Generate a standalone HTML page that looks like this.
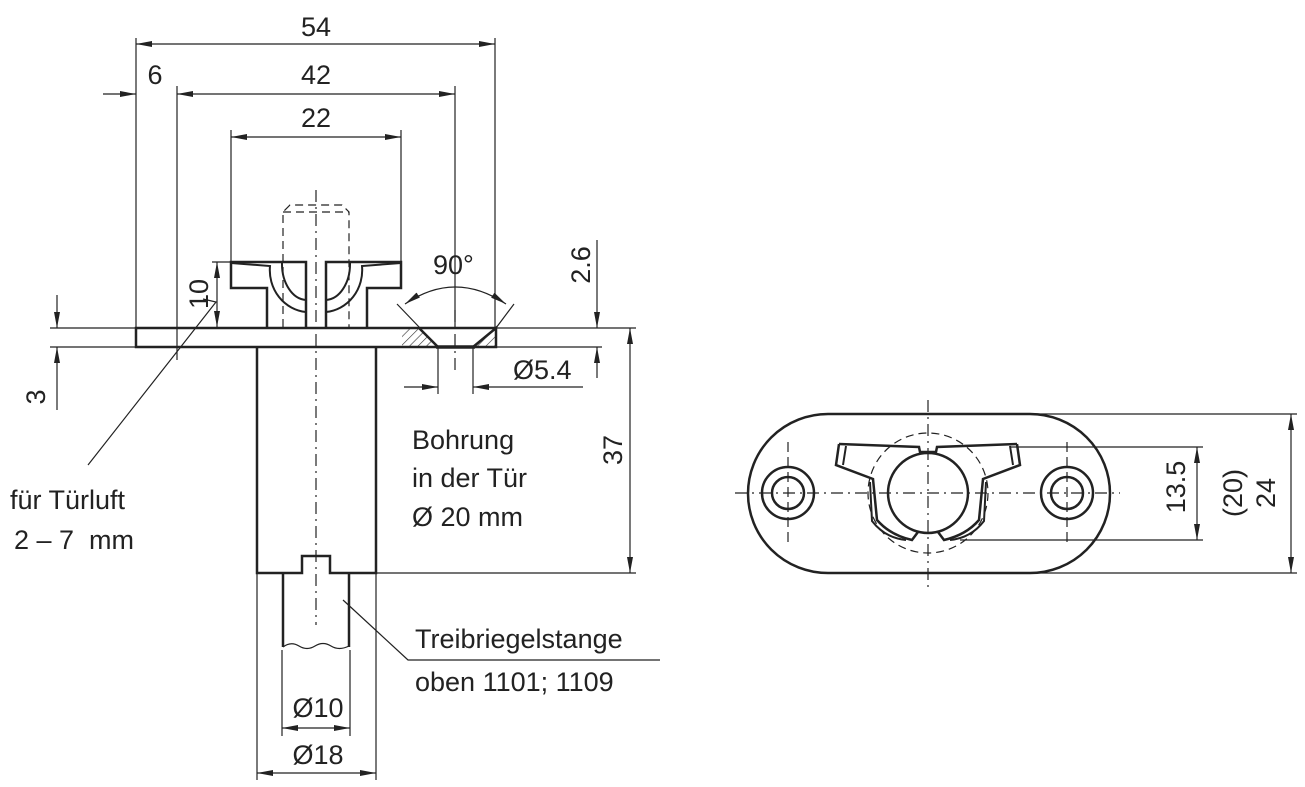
<!DOCTYPE html>
<html><head><meta charset="utf-8"><style>
html,body{margin:0;padding:0;background:#fff;}
svg{display:block;}
text{font-family:"Liberation Sans",sans-serif;font-size:27px;fill:#222;}
</style></head><body>
<svg width="1305" height="787" viewBox="0 0 1305 787" xmlns="http://www.w3.org/2000/svg">
<defs>
<marker id="a" viewBox="0 0 16 6" refX="16" refY="3" markerWidth="16" markerHeight="6" orient="auto-start-reverse" markerUnits="userSpaceOnUse"><path d="M0,0 L16,3 L0,6 z" fill="#222"/></marker>
<pattern id="h" width="6" height="6" patternUnits="userSpaceOnUse" patternTransform="rotate(45)"><line x1="0" y1="0" x2="0" y2="6" stroke="#333" stroke-width="1.2"/></pattern>
</defs>
<g stroke="#222" fill="none" stroke-width="1.2">
<line x1="136" y1="327" x2="136" y2="38"/>
<line x1="495" y1="327" x2="495" y2="38"/>
<line x1="177" y1="360" x2="177" y2="86"/>
<line x1="455" y1="327" x2="455" y2="86"/>
<line x1="231" y1="262" x2="231" y2="130"/>
<line x1="401" y1="262" x2="401" y2="130"/>
<line x1="136" y1="44" x2="495" y2="44" marker-start="url(#a)" marker-end="url(#a)"/>
<line x1="103" y1="94" x2="136" y2="94" marker-end="url(#a)"/>
<line x1="177" y1="94" x2="455" y2="94" marker-start="url(#a)" marker-end="url(#a)"/>
<line x1="231" y1="137" x2="401" y2="137" marker-start="url(#a)" marker-end="url(#a)"/>
<line x1="212" y1="262" x2="231" y2="262"/>
<line x1="217" y1="262" x2="217" y2="327" marker-start="url(#a)" marker-end="url(#a)"/>
<line x1="50" y1="328" x2="136" y2="328"/>
<line x1="50" y1="347" x2="136" y2="347"/>
<line x1="57" y1="295" x2="57" y2="328" marker-end="url(#a)"/>
<line x1="57" y1="410" x2="57" y2="347" marker-end="url(#a)"/>
<polyline points="203,299 216,302 88,465"/>
<line x1="495" y1="347" x2="602" y2="347"/>
<line x1="495" y1="328" x2="636" y2="328"/>
<line x1="597" y1="240" x2="597" y2="328" marker-end="url(#a)"/>
<line x1="597" y1="378" x2="597" y2="347" marker-end="url(#a)"/>
<line x1="438" y1="347" x2="438" y2="394"/>
<line x1="473" y1="347" x2="473" y2="394"/>
<line x1="404" y1="387" x2="438" y2="387" marker-end="url(#a)"/>
<line x1="583" y1="387" x2="473" y2="387" marker-end="url(#a)"/>
<line x1="376" y1="573" x2="636" y2="573"/>
<line x1="630" y1="328" x2="630" y2="573" marker-start="url(#a)" marker-end="url(#a)"/>
<line x1="397" y1="304" x2="420" y2="328"/>
<line x1="514" y1="304" x2="496" y2="328"/>
<path d="M405,304 Q455,270 506,304" marker-start="url(#a)" marker-end="url(#a)"/>
<line x1="282" y1="650" x2="282" y2="736"/>
<line x1="350" y1="650" x2="350" y2="736"/>
<line x1="282" y1="728" x2="350" y2="728" marker-start="url(#a)" marker-end="url(#a)"/>
<line x1="257" y1="573" x2="257" y2="780"/>
<line x1="376" y1="573" x2="376" y2="780"/>
<line x1="257" y1="773" x2="376" y2="773" marker-start="url(#a)" marker-end="url(#a)"/>
<polyline points="343,600 408,660 660,660"/>
<line x1="316" y1="190" x2="316" y2="625" stroke-dasharray="12,5,2,5"/>
<line x1="455" y1="310" x2="455" y2="370" stroke-dasharray="12,5,2,5"/>
<path d="M283,327 V212 L290,205 H342 L349,212 V327" stroke-dasharray="8,5"/>
<line x1="283" y1="212" x2="349" y2="212" stroke-dasharray="8,5"/>
</g>
<polygon points="402,328 419,328 438,347 402,347" fill="url(#h)"/>
<polygon points="496,328 496,347 473,347" fill="url(#h)"/>
<g stroke="#222" fill="none" stroke-width="2.5">
<path d="M136,328 H419 L438,347 H136 Z"/>
<path d="M473,347 L496,328 H496 V347 Z"/>
<line x1="419" y1="328" x2="496" y2="328"/>
<line x1="436" y1="347" x2="475" y2="347" stroke-width="3.5"/>
<path d="M257,347 V573 H302 V556 H330 V573 H376 V347"/>
<path d="M283,573 V647 M349,573 V647"/>
<path d="M283,647 q8,-6 16,-1 t16,0 t16,0 t18,0" stroke-width="1.2"/>
<path d="M267,327 V288 H231 V262 H306 V327"/>
<path d="M326,327 V262 H401 V288 H367 V327"/>
<path d="M231,263 L270,266 A40,42 0 0 0 306,312 M282,263 A25,36 0 0 0 306,300" stroke-width="2"/>
<path d="M401,263 L362,266 A40,42 0 0 1 326,312 M350,263 A25,36 0 0 1 326,300" stroke-width="2"/>
</g>
<text x="316" y="36" text-anchor="middle">54</text>
<text x="155" y="84" text-anchor="middle">6</text>
<text x="316" y="84" text-anchor="middle">42</text>
<text x="316" y="127" text-anchor="middle">22</text>
<text transform="translate(208,294) rotate(-90)" text-anchor="middle">10</text>
<text transform="translate(45,397) rotate(-90)" text-anchor="middle">3</text>
<text transform="translate(590,265) rotate(-90)" text-anchor="middle">2.6</text>
<text transform="translate(622,450) rotate(-90)" text-anchor="middle">37</text>
<text x="433" y="274">90°</text>
<text x="513" y="379">Ø5.4</text>
<text x="412" y="449">Bohrung</text>
<text x="412" y="487">in der Tür</text>
<text x="412" y="526">Ø 20 mm</text>
<text x="10" y="509">für Türluft</text>
<text x="14" y="549" xml:space="preserve">2 – 7  mm</text>
<text x="415" y="648">Treibriegelstange</text>
<text x="415" y="691">oben 1101; 1109</text>
<text x="318" y="717" text-anchor="middle">Ø10</text>
<text x="318" y="764" text-anchor="middle">Ø18</text>
<g stroke="#222" fill="none" stroke-width="1.2">
<line x1="735" y1="493" x2="1120" y2="493" stroke-dasharray="12,5,2,5"/>
<line x1="928" y1="400" x2="928" y2="590" stroke-dasharray="12,5,2,5"/>
<line x1="788" y1="442" x2="788" y2="545" stroke-dasharray="10,5"/>
<line x1="1067" y1="442" x2="1067" y2="545" stroke-dasharray="10,5"/>
<circle cx="928" cy="493" r="60" stroke-dasharray="8,5"/>
<line x1="1030" y1="414" x2="1297" y2="414"/>
<line x1="1030" y1="573" x2="1297" y2="573"/>
<line x1="1010" y1="447" x2="1203" y2="447"/>
<line x1="960" y1="540" x2="1203" y2="540"/>
<line x1="1197" y1="447" x2="1197" y2="540" marker-start="url(#a)" marker-end="url(#a)"/>
<line x1="1291" y1="414" x2="1291" y2="573" marker-start="url(#a)" marker-end="url(#a)"/>
</g>
<g stroke="#222" fill="none" stroke-width="2.5">
<rect x="748" y="414" width="362" height="159" rx="80" ry="80"/>
<circle cx="788" cy="493" r="26"/>
<circle cx="788" cy="493" r="16"/>
<circle cx="1067" cy="493" r="26"/>
<circle cx="1067" cy="493" r="16"/>
<circle cx="928" cy="493" r="40"/>
<path d="M839,444 L836,465 L873,479 L877,520 Q890,535 912,540 L918,532 M1017,444 L1020,465 L983,479 L979,520 Q966,535 944,540 L938,532" />
<path d="M839,444 L919,447 L920,452 H936 L937,447 L1017,444"/>
<path d="M870,482 L872,521 Q885,538 906,540 M986,482 L984,521 Q971,538 950,540" stroke-width="2"/>
<path d="M846,446 L843,465 M1010,446 L1013,465" stroke-width="2"/>
</g>
<text transform="translate(1185,487) rotate(-90)" text-anchor="middle">13.5</text>
<text transform="translate(1242,493) rotate(-90)" text-anchor="middle">(20)</text>
<text transform="translate(1275,493) rotate(-90)" text-anchor="middle">24</text>
</svg>
</body></html>
